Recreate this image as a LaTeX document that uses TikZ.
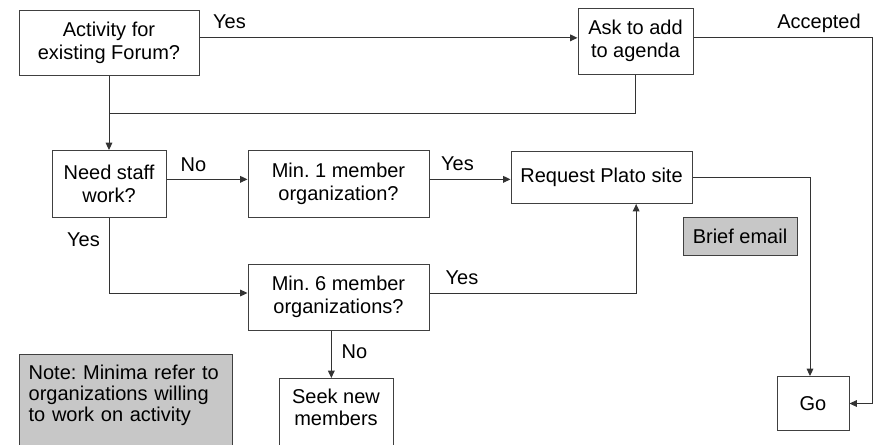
\documentclass[tikz,border=0pt]{standalone}
\usepackage{fontspec}
\setmainfont{Liberation Sans}
\usetikzlibrary{arrows.meta, positioning, calc}

\begin{document}
\frenchspacing
\begin{tikzpicture}[x=0.75pt, y=-0.75pt]
    \tikzset{
        box/.style={draw=black!75, line width=0.75pt, fill=white, align=center, inner sep=2pt, font=\fontsize{15}{17}\selectfont},
        greybox/.style={box, fill=black!22},
        lbl/.style={anchor=base, inner sep=0pt, font=\fontsize{15}{17}\selectfont},
        flow/.style={-{Triangle[length=5.5pt, width=5pt]}, draw=black!80, line width=0.75pt},
        wire/.style={draw=black!80, line width=0.75pt}
    }
    \useasboundingbox (0,0) rectangle (878,444);
    \clip (0,0) rectangle (878,444);

    % boxes
    \node[box, minimum width=135pt, minimum height=48.75pt] (act) at (109,42.5) {Activity for\\existing Forum?};
    \node[box, minimum width=86.25pt, minimum height=49.5pt] (agenda) at (635.5,41) {Ask to add\\to agenda};
    \node[box, minimum width=85.5pt, minimum height=50.25pt] (staff) at (109,184) {Need staff\\work?};
    \node[box, minimum width=135.75pt, minimum height=50.25pt] (one) at (338.5,184) {Min. 1 member\\organization?};
    \node[box, minimum width=135.75pt, minimum height=39pt] (plato) at (601.5,177.5) {Request Plato site};
    \node[greybox, minimum width=85.5pt, minimum height=28.5pt] (brief) at (740,236) {Brief email};
    \node[box, minimum width=135.75pt, minimum height=49.5pt] (six) at (338.5,297) {Min. 6 member\\organizations?};
    \node[box, anchor=north, minimum width=85.5pt, inner ysep=7.5pt] (seek) at (336,378) {Seek new\\members\rule[-20pt]{0pt}{20pt}};
    \node[box, minimum width=54pt, minimum height=40.5pt] (go) at (813,403.5) {Go};
    \node[greybox, anchor=north west, text width=146pt, align=left, inner xsep=6.875pt, inner ysep=8pt,
          font=\fontsize{15}{15.5}\selectfont] (note) at (19,354)
          {Note: Minima refer to\\organizations willing\\to work on activity\rule[-30pt]{0pt}{30pt}};

    % connectors
    \coordinate (accR) at (872,0);
    \coordinate (join) at (109,113);
    \draw[flow] ([yshift=3.5pt]act.east) -- ([yshift=3.5pt]act.east -| agenda.west);
    \draw[flow] ([yshift=3pt]agenda.east) -| (accR |- go.east) -- (go.east);
    \draw[wire] (agenda.south) |- (join);
    \draw[flow] (act.south) -- (staff.north);
    \draw[flow] ([yshift=3.5pt]staff.east) -- ([yshift=3.5pt]staff.east -| one.west);
    \draw[flow] ([yshift=3.5pt]one.east) -- ([yshift=3.5pt]one.east -| plato.west);
    \draw[flow] (plato.east) -| ([xshift=-2.25pt]go.north);
    \draw[flow] (staff.south) |- ([yshift=3pt]six.west);
    \draw[flow] ([yshift=3pt]six.east) -| ([xshift=26pt]plato.south);
    \draw[flow] ([xshift=-3.5pt]seek.north |- six.south) -- ([xshift=-3.5pt]seek.north);

    % labels
    \node[lbl] (yesA) at (229.5,28) {Yes};
    \node[lbl] (acc) at (819,28) {Accepted};
    \node[lbl] (noS) at (193.5,171) {No};
    \node[lbl] (yesO) at (457.5,170) {Yes};
    \node[lbl] (yesS) at (83.5,246) {Yes};
    \node[lbl] (yesX) at (462,284) {Yes};
    \node[lbl] (noX) at (354.5,358) {No};
\end{tikzpicture}
\end{document}
